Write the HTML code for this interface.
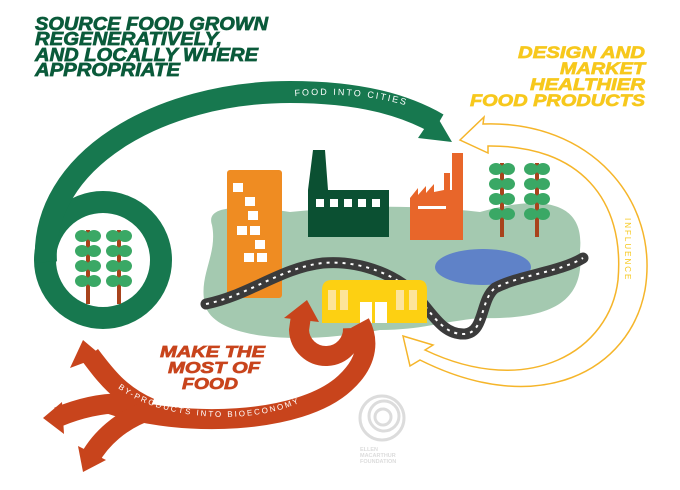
<!DOCTYPE html>
<html><head><meta charset="utf-8"><style>
html,body{margin:0;padding:0;background:#fff;}
svg{display:block;}
.h{font-family:"Liberation Sans",sans-serif;font-weight:900;font-style:italic;stroke-width:0.7;}
.s{font-family:"Liberation Sans",sans-serif;letter-spacing:2px;}
</style></head><body>
<svg width="680" height="490" viewBox="0 0 680 490" xmlns="http://www.w3.org/2000/svg">
<defs>
<path id="p1" d="M250,102 C330,88 390,95 440,118"/>
<path id="p2" d="M118,388 C165,425 285,430 330,382"/>
<g id="tree">
<rect x="-2" y="0" width="4" height="74" fill="#a8431c"/>
<g fill="#3aa865">
<ellipse cx="-6" cy="6" rx="7" ry="6"/><ellipse cx="6" cy="6" rx="7" ry="6"/>
<ellipse cx="-6" cy="21" rx="7" ry="6"/><ellipse cx="6" cy="21" rx="7" ry="6"/>
<ellipse cx="-6" cy="36" rx="7" ry="6"/><ellipse cx="6" cy="36" rx="7" ry="6"/>
<ellipse cx="-6" cy="51" rx="7" ry="6"/><ellipse cx="6" cy="51" rx="7" ry="6"/>
</g></g>
</defs>

<path d="M212,225 C205,205 240,205 290,212 C360,205 420,205 480,212 C540,195 585,200 580,250 C585,300 555,320 480,318 C440,322 420,330 380,330 C300,345 215,340 205,305 C198,275 218,255 212,225 Z" fill="#a4c9b0"/>
<ellipse cx="483" cy="267" rx="48" ry="18" fill="#5f82c8"/>

<rect x="227" y="170" width="55" height="128" rx="3" fill="#ef8c22"/>
<g fill="#fff"><rect x="233" y="183" width="10" height="9"/><rect x="245" y="197" width="10" height="9"/><rect x="248" y="211" width="10" height="9"/><rect x="237" y="226" width="10" height="9"/><rect x="250" y="226" width="10" height="9"/><rect x="244" y="253" width="10" height="9"/><rect x="257" y="253" width="10" height="9"/><rect x="255" y="240" width="10" height="9"/></g>
<polygon points="308,190 313,150 325,150 328,190 389,190 389,237 308,237" fill="#0b5032"/>
<g fill="#fff"><rect x="316" y="199" width="8" height="8"/><rect x="330" y="199" width="8" height="8"/><rect x="344" y="199" width="8" height="8"/><rect x="358" y="199" width="8" height="8"/><rect x="372" y="199" width="8" height="8"/></g>
<polygon points="410,240 410,198 418,188 418,195 426,186 426,193 434,184 434,192 444,190 444,173 450,173 450,190 452,190 452,153 463,153 463,240" fill="#e8662a"/>
<rect x="418" y="206" width="28" height="3" fill="#fff"/>
<use href="#tree" x="502" y="163"/>
<use href="#tree" x="537" y="163"/>

<g fill="none" stroke-linecap="round">
<path d="M206,304 C250,295 280,268 323,263 C360,260 400,275 420,300 C435,318 445,335 465,334 C485,332 480,300 495,288 C520,275 560,272 583,258" stroke="#3b3b3b" stroke-width="11"/>
<path d="M206,304 C250,295 280,268 323,263 C360,260 400,275 420,300 C435,318 445,335 465,334 C485,332 480,300 495,288 C520,275 560,272 583,258" stroke="#fff" stroke-width="2" stroke-dasharray="3 5" stroke-linecap="butt"/>
</g>

<path d="M322,323 L322,290 Q322,280 332,280 L419,280 Q427,280 427,290 L427,323 Z" fill="#fdd012"/>
<g fill="#fde49a"><rect x="328" y="290" width="8" height="20"/><rect x="340" y="290" width="8" height="20"/><rect x="396" y="290" width="8" height="20"/><rect x="409" y="290" width="8" height="20"/></g>
<rect x="360" y="302" width="12" height="21" fill="#fff"/><rect x="375" y="302" width="12" height="21" fill="#fff"/>

<circle cx="103" cy="260" r="58" fill="none" stroke="#17784f" stroke-width="22"/>
<path d="M46,262 C40,160 160,92 290,92 C360,92 405,105 438,124" fill="none" stroke="#17784f" stroke-width="22"/>
<polygon points="452,142 418,138 435,113" fill="#17784f"/>
<text class="s" font-size="9" fill="#fff"><textPath href="#p1" startOffset="45">FOOD INTO CITIES</textPath></text>
<use href="#tree" x="88" y="230"/>
<use href="#tree" x="119" y="230"/>

<g fill="none" stroke="#c8441c" stroke-width="20">
<path d="M110,404 C180,428 300,425 345,383 C370,360 368,338 360,323"/>
<path d="M353,328 A27,27 0 0 1 299,330 L301,316"/>
<path d="M150,408 C120,395 105,375 90,355"/>
<path d="M140,405 C110,400 80,408 58,417"/>
<path d="M150,410 C120,420 100,440 90,458"/>
</g>
<g fill="#c8441c">
<polygon points="307,300 284,318 319,322"/>
<polygon points="83,340 70,368 102,356"/>
<polygon points="43,418 62,402 64,434"/>
<polygon points="83,472 78,446 106,460"/>
</g>
<text class="s" font-size="8" fill="#fff"><textPath href="#p2">BY-PRODUCTS INTO BIOECONOMY</textPath></text>

<path d="M460,140 L484,117 L483,124 C590,120 660,200 645,290 C630,370 540,420 420,360 L410,366 L403,336 L433,345 L425,350 C530,400 610,350 618,280 C625,200 580,145 488,146 L488,153 Z" fill="none" stroke="#f5b52a" stroke-width="1.5"/>
<text class="s" font-size="8" fill="#f7c81c" transform="translate(625,218) rotate(90)">INFLUENCE</text>

<g class="h" font-size="18" fill="#0a5a3a" stroke="#0a5a3a">
<text x="35" y="30" textLength="233" lengthAdjust="spacingAndGlyphs">SOURCE FOOD GROWN</text>
<text x="35" y="45" textLength="187" lengthAdjust="spacingAndGlyphs">REGENERATIVELY,</text>
<text x="35" y="61" textLength="223" lengthAdjust="spacingAndGlyphs">AND LOCALLY WHERE</text>
<text x="35" y="76" textLength="145" lengthAdjust="spacingAndGlyphs">APPROPRIATE</text>
</g>
<g class="h" font-size="17" fill="#f7c81c" stroke="#f7c81c">
<text x="518" y="58" textLength="127" lengthAdjust="spacingAndGlyphs">DESIGN AND</text>
<text x="560" y="74" textLength="85" lengthAdjust="spacingAndGlyphs">MARKET</text>
<text x="530" y="90" textLength="115" lengthAdjust="spacingAndGlyphs">HEALTHIER</text>
<text x="470" y="106" textLength="175" lengthAdjust="spacingAndGlyphs">FOOD PRODUCTS</text>
</g>
<g class="h" font-size="16" fill="#c8441c" stroke="#c8441c">
<text x="160" y="357" textLength="105" lengthAdjust="spacingAndGlyphs">MAKE THE</text>
<text x="168" y="373" textLength="92" lengthAdjust="spacingAndGlyphs">MOST OF</text>
<text x="182" y="389" textLength="56" lengthAdjust="spacingAndGlyphs">FOOD</text>
</g>

<g fill="none" stroke="#dcdcdc" stroke-width="3">
<circle cx="382" cy="418" r="22"/><circle cx="384" cy="416" r="15"/><circle cx="383" cy="417" r="8"/>
</g>
<g font-family="Liberation Sans,sans-serif" font-weight="bold" font-size="5.5" fill="#dcdcdc">
<text x="360" y="451">ELLEN</text><text x="360" y="457">MACARTHUR</text><text x="360" y="463">FOUNDATION</text>
</g>
</svg>
</body></html>
